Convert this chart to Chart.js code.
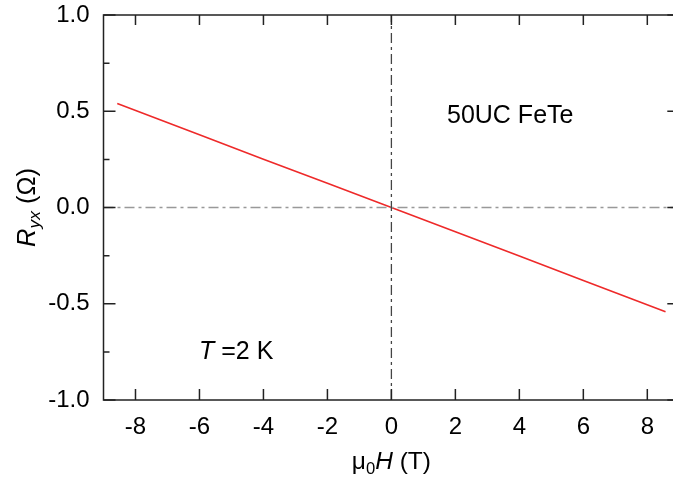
<!DOCTYPE html>
<html>
<head>
<meta charset="utf-8">
<script src="https://cdn.jsdelivr.net/npm/chart.js@4/dist/chart.umd.min.js"></script>
<style>
  html, body { margin: 0; padding: 0; background: #fff; overflow: hidden; width: 673px; height: 484px; }
  #wrap { width: 673px; height: 484px; overflow: hidden; position: relative; }
  #hallChart { position: absolute; left: 0; top: 0; }
</style>
</head>
<body>
<div id="wrap"><canvas id="hallChart" width="690" height="484"></canvas></div>
<script>
// Hall resistance vs field, 50UC FeTe at 2 K
const fieldT = [-8.57, -6, -4, -2, 0, 2, 4, 6, 8.57];
const rYx = [0.540, 0.378, 0.251, 0.126, 0.0, -0.126, -0.252, -0.379, -0.541];

const xMin = -9, xMax = 9;
const yMin = -1, yMax = 1;
const xTickValues = [-8, -6, -4, -2, 0, 2, 4, 6, 8];
const yTickValues = [-1, -0.5, 0, 0.5, 1];
const yMinorValues = [-0.75, -0.25, 0.25, 0.75];

const FONT = '"Liberation Sans", Arial, sans-serif';

const series = fieldT.map((x, i) => ({ x: x, y: rYx[i] }));

// draw a run of text pieces (italic / subscript) starting at x, baseline y
function drawRich(ctx, parts, x, y, size) {
    let cx = x;
    parts.forEach(p => {
        const sz = p.sub ? size * 0.68 : size;
        ctx.font = (p.italic ? 'italic ' : '') + sz + 'px ' + FONT;
        ctx.fillText(p.text, cx, p.sub ? y + size * 0.2 : y);
        cx += ctx.measureText(p.text).width;
    });
    return cx - x;
}
function richWidth(ctx, parts, size) {
    let w = 0;
    parts.forEach(p => {
        const sz = p.sub ? size * 0.68 : size;
        ctx.font = (p.italic ? 'italic ' : '') + sz + 'px ' + FONT;
        w += ctx.measureText(p.text).width;
    });
    return w;
}

const framePlugin = {
    id: 'frame',
    afterDatasetsDraw(chart) {
        const ctx = chart.ctx;
        const a = chart.chartArea;
        const xs = chart.scales.x, ys = chart.scales.y;
        ctx.save();
        ctx.strokeStyle = '#222';
        ctx.lineWidth = 1.5;
        ctx.strokeRect(a.left, a.top, a.right - a.left, a.bottom - a.top);

        ctx.beginPath();
        xTickValues.forEach(v => {
            const px = xs.getPixelForValue(v);
            ctx.moveTo(px, a.bottom); ctx.lineTo(px, a.bottom - 11);
            ctx.moveTo(px, a.top); ctx.lineTo(px, a.top + 10);
        });
        yTickValues.forEach(v => {
            const py = ys.getPixelForValue(v);
            ctx.moveTo(a.left, py); ctx.lineTo(a.left + 12, py);
            ctx.moveTo(a.right, py); ctx.lineTo(a.right - 12, py);
        });
        yMinorValues.forEach(v => {
            const py = ys.getPixelForValue(v);
            ctx.moveTo(a.left, py); ctx.lineTo(a.left + 6, py);
            ctx.moveTo(a.right, py); ctx.lineTo(a.right - 6, py);
        });
        ctx.stroke();

        // axis titles and labels
        ctx.fillStyle = '#000';
        ctx.textBaseline = 'alphabetic';
        ctx.textAlign = 'left';

        const xTitle = [
            { text: 'μ' }, { text: '0', sub: true },
            { text: 'H', italic: true }, { text: ' (T)' }
        ];
        const cxMid = xs.getPixelForValue(0);
        const wx = richWidth(ctx, xTitle, 24.5);
        drawRich(ctx, xTitle, cxMid - wx / 2, 469, 24.5);

        const yTitle = [
            { text: 'R', italic: true }, { text: 'yx', italic: true, sub: true },
            { text: ' (Ω)' }
        ];
        const wy = richWidth(ctx, yTitle, 25.5);
        ctx.save();
        ctx.translate(35, ys.getPixelForValue(0));
        ctx.rotate(-Math.PI / 2);
        drawRich(ctx, yTitle, -wy / 2, 0, 25.5);
        ctx.restore();

        drawRich(ctx, [{ text: '50UC FeTe' }], 447, 123, 25);
        drawRich(ctx, [{ text: 'T', italic: true }, { text: ' =2 K' }], 199, 359, 25);
        ctx.restore();
    }
};

new Chart(document.getElementById('hallChart'), {
    type: 'scatter',
    data: {
        datasets: [{
            label: 'zero field',
            data: [{ x: 0, y: yMin }, { x: 0, y: yMax }],
            showLine: true,
            borderColor: '#444',
            borderWidth: 1.3,
            borderDash: [10, 4, 3, 4],
            pointRadius: 0
        }, {
            label: 'zero R',
            data: [{ x: xMin, y: 0 }, { x: xMax, y: 0 }],
            showLine: true,
            borderColor: '#999',
            borderWidth: 1.3,
            borderDash: [10, 4, 3, 4],
            pointRadius: 0
        }, {
            label: 'Ryx',
            data: series,
            showLine: true,
            borderColor: '#ee2a2a',
            borderWidth: 1.6,
            pointRadius: 0
        }]
    },
    options: {
        responsive: false,
        animation: false,
        devicePixelRatio: 1,
        // canvas is wider than the page so the right frame edge falls outside
        layout: { padding: { top: 15, right: 10.7, left: 0, bottom: 0 } },
        plugins: {
            legend: { display: false },
            tooltip: { enabled: false }
        },
        scales: {
            x: {
                type: 'linear',
                min: xMin,
                max: xMax,
                afterBuildTicks: s => { s.ticks = xTickValues.map(v => ({ value: v })); },
                afterFit: s => { s.height = 84; s.paddingLeft = 0; s.paddingRight = 0; },
                grid: { display: false },
                border: { display: false },
                ticks: {
                    color: '#000',
                    padding: 5,
                    font: { family: FONT, size: 24 },
                    maxRotation: 0,
                    autoSkip: false
                }
            },
            y: {
                type: 'linear',
                min: yMin,
                max: yMax,
                afterBuildTicks: s => { s.ticks = yTickValues.map(v => ({ value: v })); },
                afterFit: s => { s.width = 103.5; s.paddingTop = 0; s.paddingBottom = 0; },
                grid: { display: false },
                border: { display: false },
                ticks: {
                    color: '#000',
                    padding: 6,
                    font: { family: FONT, size: 24 },
                    callback: v => v.toFixed(1)
                }
            }
        }
    },
    plugins: [framePlugin]
});
</script>
</body>
</html>
